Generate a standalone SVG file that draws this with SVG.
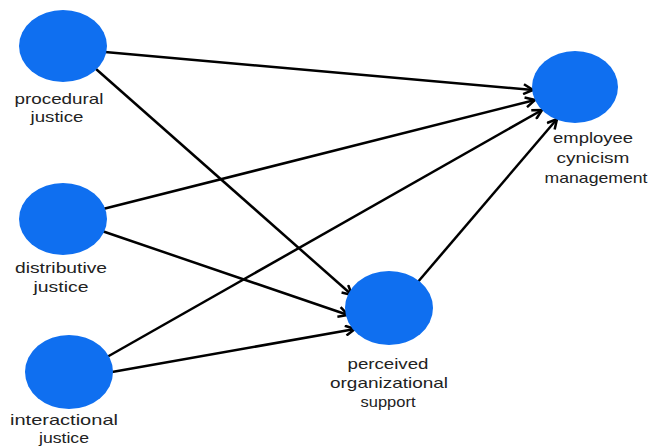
<svg xmlns="http://www.w3.org/2000/svg" width="653" height="447" viewBox="0 0 653 447">
<style>
.node{fill:#0f6ff0;}
.lbl{font-family:"Liberation Sans",Arial,sans-serif;font-size:15px;fill:#222;text-anchor:middle;}
.edge{stroke:#000;stroke-width:2.5;fill:none;marker-end:url(#arr);}
</style>
<defs>
<marker id="arr" viewBox="0 0 12 12" refX="10.5" refY="6" markerWidth="12" markerHeight="12" markerUnits="userSpaceOnUse" orient="auto">
<path d="M1,1 L10.5,6 L1,11" fill="none" stroke="#000" stroke-width="2.5" stroke-linejoin="miter"/>
</marker>
</defs>
<rect width="653" height="447" fill="#fff"/>
<g id="connectors">
<line class="edge" x1="105" y1="52" x2="533" y2="90"/>
<line class="edge" x1="96" y1="69" x2="352" y2="295"/>
<line class="edge" x1="103" y1="209" x2="535" y2="100"/>
<line class="edge" x1="102" y1="231" x2="348" y2="315"/>
<line class="edge" x1="107" y1="357" x2="542" y2="110"/>
<line class="edge" x1="112" y1="372" x2="355" y2="329"/>
<line class="edge" x1="417" y1="283" x2="557" y2="119"/>
</g>
<g id="procedural">
<ellipse class="node" cx="63" cy="46" rx="44" ry="36"/>
<text class="lbl" x="59" y="104" textLength="89" lengthAdjust="spacingAndGlyphs">procedural</text>
<text class="lbl" x="57" y="122" textLength="53" lengthAdjust="spacingAndGlyphs">justice</text>
</g>
<g id="distributive">
<ellipse class="node" cx="63" cy="219" rx="44" ry="36"/>
<text class="lbl" x="61" y="273" textLength="92" lengthAdjust="spacingAndGlyphs">distributive</text>
<text class="lbl" x="61" y="292" textLength="55" lengthAdjust="spacingAndGlyphs">justice</text>
</g>
<g id="interactional">
<ellipse class="node" cx="69" cy="372" rx="44" ry="37"/>
<text class="lbl" x="64" y="425" textLength="108" lengthAdjust="spacingAndGlyphs">interactional</text>
<text class="lbl" x="64" y="443" textLength="50" lengthAdjust="spacingAndGlyphs">justice</text>
</g>
<g id="perceived">
<ellipse class="node" cx="389" cy="308" rx="44" ry="37"/>
<text class="lbl" x="388" y="369" textLength="81" lengthAdjust="spacingAndGlyphs">perceived</text>
<text class="lbl" x="389" y="388" textLength="118" lengthAdjust="spacingAndGlyphs">organizational</text>
<text class="lbl" x="388" y="407" textLength="55" lengthAdjust="spacingAndGlyphs">support</text>
</g>
<g id="employee">
<ellipse class="node" cx="575" cy="87" rx="43" ry="36"/>
<text class="lbl" x="593" y="143" textLength="80" lengthAdjust="spacingAndGlyphs">employee</text>
<text class="lbl" x="593" y="163" textLength="73" lengthAdjust="spacingAndGlyphs">cynicism</text>
<text class="lbl" x="596" y="183" textLength="103" lengthAdjust="spacingAndGlyphs">management</text>
</g>
</svg>
